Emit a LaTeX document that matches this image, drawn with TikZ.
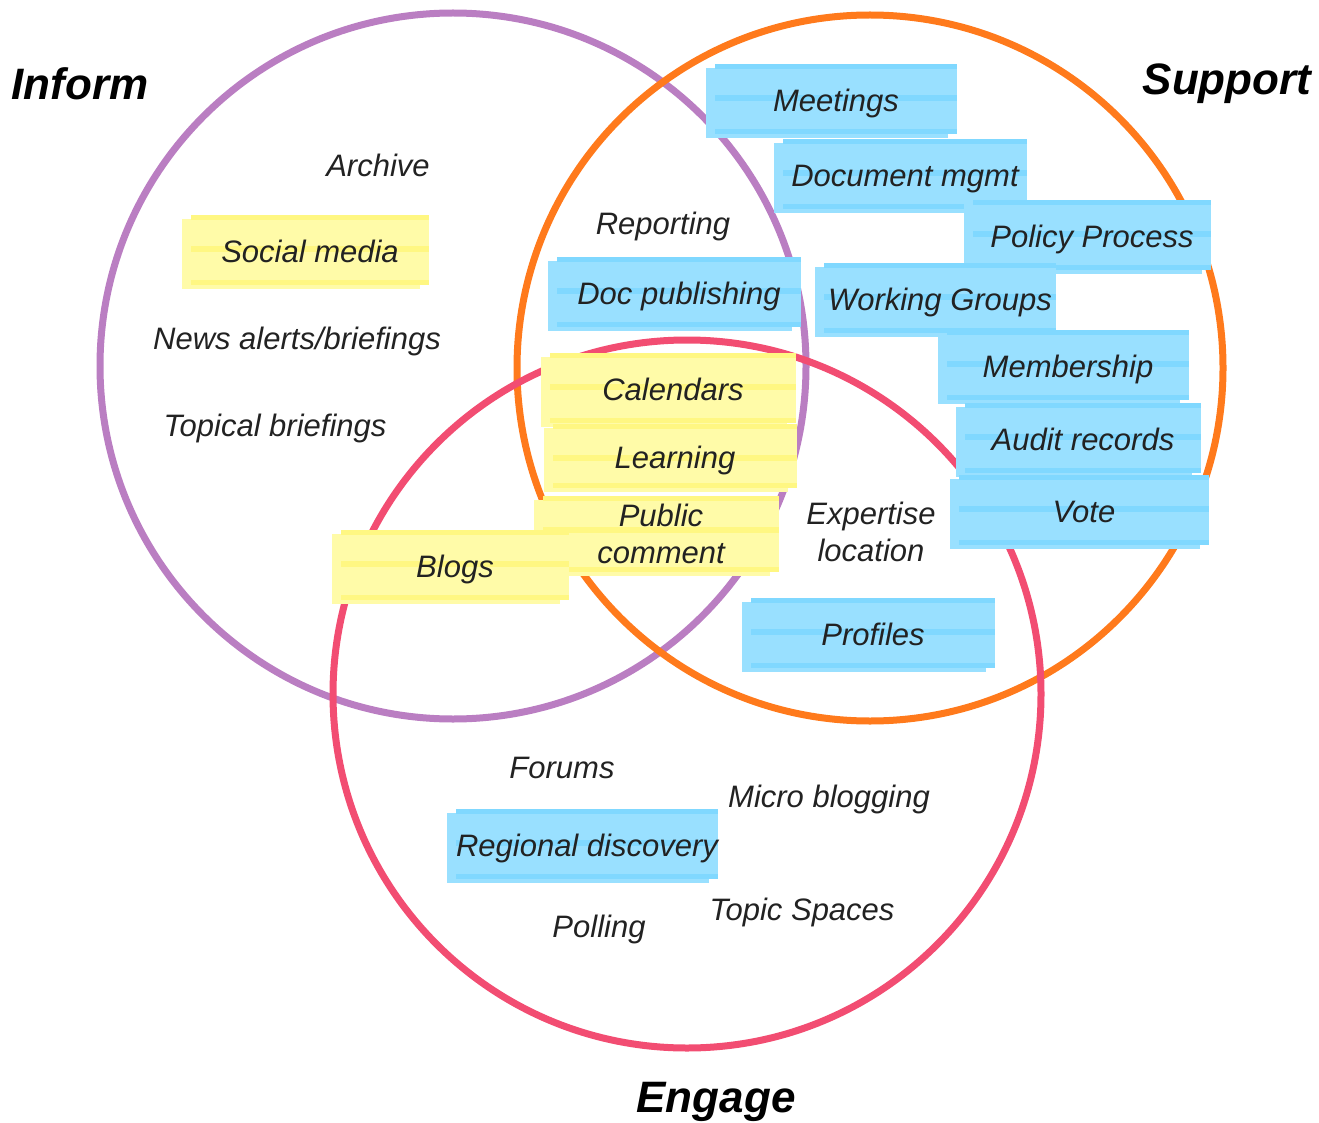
\documentclass[tikz,border=0pt]{standalone}
\usepackage{fontspec}
\setmainfont{Liberation Sans}
\usetikzlibrary{shadows}
\definecolor{informcol}{HTML}{BA7EC2}
\definecolor{supportcol}{HTML}{FF7A1C}
\definecolor{engagecol}{HTML}{F24D72}
\definecolor{bluehl}{HTML}{99E0FF}
\definecolor{bluedk}{HTML}{80D8FF}
\definecolor{yelhl}{HTML}{FFFBA8}
\definecolor{yeldk}{HTML}{FFF782}
\definecolor{ink}{HTML}{222222}
\tikzset{
  hl/.style={minimum height=70pt,
    fill=#1hl,
    copy shadow={shadow xshift=-9pt, shadow yshift=-4pt, fill=#1hl, draw=none},
    path picture={
      \fill[#1dk] (path picture bounding box.north west) rectangle ([yshift=-5pt]path picture bounding box.north east);
      \fill[#1dk] ([yshift=-31pt]path picture bounding box.north west) rectangle ([yshift=-37pt]path picture bounding box.north east);
      \fill[#1dk] ([yshift=5pt]path picture bounding box.south west) rectangle (path picture bounding box.south east);
    }},
  oneline/.style={text height=27pt, text depth=2pt},
}
\begin{document}
\begin{tikzpicture}[x=1pt,y=-1pt]
\tikzstyle{every node}=[font=\fontsize{31}{37}\selectfont\itshape, text=ink, inner sep=0pt]
\tikzstyle{title}=[font=\fontsize{44}{52}\selectfont\bfseries\itshape, text=black]
\tikzstyle{ring}=[line width=7pt]
\useasboundingbox (0,0) rectangle (1319,1123);
% the three sets
\draw[ring, informcol] (453,366) circle [radius=353];
\draw[ring, supportcol] (870,368) circle [radius=353];
\draw[ring, engagecol] (687,694) circle [radius=354];
\node[title] (inform) at (80,84) {Inform};
\node[title] (support) at (1227,84) {Support};
\node[title] (engage) at (716,1102) {Engage};
% inform only
\node (archive) at (378,165) {Archive};
\node[hl=yel, oneline, minimum width=238pt] (social) at (310,250) {Social media};
\node (news) at (297,341) {News alerts/briefings};
\node (topical) at (275,428) {Topical briefings};
% inform and support
\node (reporting) at (663,226) {Reporting};
\node[hl=blue, oneline, minimum width=244pt] (docpub) at (679,292) {Doc publishing};
% support only
\node[hl=blue, oneline, minimum width=242pt] (meetings) at (836,99) {Meetings};
\node[hl=blue, oneline, minimum width=244pt] (docmgmt) at (905,174) {Document mgmt};
\node[hl=blue, oneline, minimum width=238pt] (policy) at (1092,235) {Policy Process};
\node[hl=blue, oneline, minimum width=232pt] (working) at (940,298) {Working Groups};
\node[hl=blue, oneline, minimum width=242pt] (member) at (1068,365) {Membership};
\node[hl=blue, oneline, minimum width=236pt] (audit) at (1083,438) {Audit records};
\node[hl=blue, oneline, minimum width=250pt] (vote) at (1084,510) {Vote};
% all three
\node[hl=yel, oneline, minimum width=246pt] (calendars) at (673,388) {Calendars};
\node[hl=yel, oneline, minimum width=244pt, minimum height=64pt] (learning) at (675,456) {Learning};
\node[hl=yel, align=center, minimum width=236pt, minimum height=76pt] (public) at (661,534) {Public\\comment};
% inform and engage
\node[hl=yel, oneline, minimum width=228pt] (blogs) at (455,565) {Blogs};
% support and engage
\node[align=center] (expertise) at (871,532) {Expertise\\location};
\node[hl=blue, oneline, minimum width=244pt] (profiles) at (873,633) {Profiles};
% engage only
\node (forums) at (562,768) {Forums};
\node (micro) at (829,799) {Micro blogging};
\node[hl=blue, oneline, minimum width=258pt] (regional) at (587,844) {Regional discovery};
\node (topic) at (802,912) {Topic Spaces};
\node (polling) at (599,929) {Polling};
\end{tikzpicture}
\end{document}
